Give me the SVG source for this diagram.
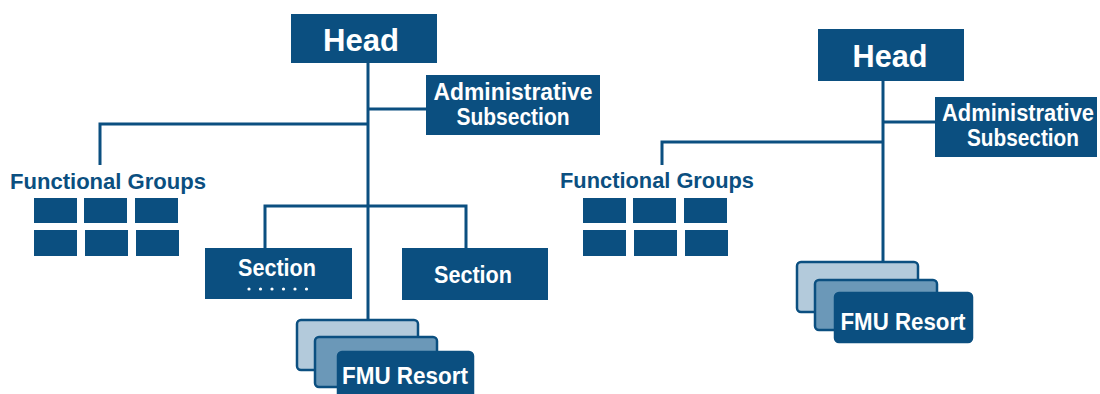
<svg xmlns="http://www.w3.org/2000/svg" width="1100" height="394" viewBox="0 0 1100 394">
  <style>
    .box { fill: #0b4f80; }
    .cell { fill: #0b4f80; }
    .dot { fill: #ffffff; }
    .link { fill: none; stroke: #0b4f80; stroke-width: 3; }
    .lbl { font-family: "Liberation Sans", Arial, sans-serif; font-weight: bold; fill: #ffffff; text-anchor: middle; font-size: 23px; }
    .head { font-size: 32px; }
    .cap { font-family: "Liberation Sans", Arial, sans-serif; font-weight: bold; fill: #0b4f80; font-size: 22.5px; }
    .card { stroke: #0b4f80; stroke-width: 2.5; }
    .c1 { fill: #b3cadb; }
    .c2 { fill: #6b98b8; }
    .c3 { fill: #0b4f80; }
  </style>
  <defs>
    <g id="grid">
      <rect class="cell" x="0" y="0" width="43" height="25"/>
      <rect class="cell" x="50" y="0" width="43" height="25"/>
      <rect class="cell" x="101" y="0" width="43" height="25"/>
      <rect class="cell" x="0" y="32" width="43" height="26"/>
      <rect class="cell" x="51" y="32" width="43" height="26"/>
      <rect class="cell" x="102" y="32" width="43" height="26"/>
    </g>
  </defs>

  <!-- connectors -->
  <g id="connectors">
    <!-- left chart -->
    <path class="link" d="M368 63 V320"/>
    <path class="link" d="M368 109 H426"/>
    <path class="link" d="M368 124 H100 V165"/>
    <path class="link" d="M265 248 V206 H466 V248"/>
    <!-- right chart -->
    <path class="link" d="M883 81 V262"/>
    <path class="link" d="M883 122 H935"/>
    <path class="link" d="M883 142 H662 V165"/>
  </g>

  <!-- left chart -->
  <g id="head-left">
    <rect class="box" x="291" y="14" width="146" height="49"/>
    <text class="lbl head" x="361" y="51" textLength="76" lengthAdjust="spacingAndGlyphs">Head</text>
  </g>
  <g id="admin-left">
    <rect class="box" x="426" y="75" width="174" height="60"/>
    <text class="lbl" x="513" y="100" textLength="159" lengthAdjust="spacingAndGlyphs">Administrative</text>
    <text class="lbl" x="513" y="125" textLength="113" lengthAdjust="spacingAndGlyphs">Subsection</text>
  </g>
  <g id="groups-left">
    <text class="cap" x="10" y="189" textLength="196" lengthAdjust="spacingAndGlyphs">Functional Groups</text>
    <use href="#grid" x="34" y="198"/>
  </g>
  <g id="section-left">
    <rect class="box" x="205" y="248" width="147" height="51"/>
    <text class="lbl" x="277" y="276" textLength="78" lengthAdjust="spacingAndGlyphs">Section</text>
    <g id="ellipsis">
      <circle class="dot" cx="249" cy="289" r="1.6"/>
      <circle class="dot" cx="260.5" cy="289" r="1.6"/>
      <circle class="dot" cx="272" cy="289" r="1.6"/>
      <circle class="dot" cx="283.5" cy="289" r="1.6"/>
      <circle class="dot" cx="295" cy="289" r="1.6"/>
      <circle class="dot" cx="306.5" cy="289" r="1.6"/>
    </g>
  </g>
  <g id="section-right">
    <rect class="box" x="402" y="248" width="146" height="52"/>
    <text class="lbl" x="473" y="283" textLength="78" lengthAdjust="spacingAndGlyphs">Section</text>
  </g>
  <g id="fmu-left">
    <rect class="card c1" x="297" y="320" width="121" height="50" rx="4"/>
    <rect class="card c2" x="315" y="337" width="122" height="50" rx="4"/>
    <rect class="card c3" x="338" y="352" width="135" height="50" rx="4"/>
    <text class="lbl" x="405" y="384" textLength="126" lengthAdjust="spacingAndGlyphs">FMU Resort</text>
  </g>

  <!-- right chart -->
  <g id="head-right">
    <rect class="box" x="818" y="29" width="146" height="52"/>
    <text class="lbl head" x="890" y="67" textLength="75" lengthAdjust="spacingAndGlyphs">Head</text>
  </g>
  <g id="admin-right">
    <rect class="box" x="935" y="97" width="162" height="60"/>
    <text class="lbl" x="1018" y="121" textLength="152" lengthAdjust="spacingAndGlyphs">Administrative</text>
    <text class="lbl" x="1023" y="146" textLength="112" lengthAdjust="spacingAndGlyphs">Subsection</text>
  </g>
  <g id="groups-right">
    <text class="cap" x="560" y="188" textLength="194" lengthAdjust="spacingAndGlyphs">Functional Groups</text>
    <use href="#grid" x="583" y="198"/>
  </g>
  <g id="fmu-right">
    <rect class="card c1" x="797" y="262" width="121" height="50" rx="4"/>
    <rect class="card c2" x="815" y="280" width="122" height="50" rx="4"/>
    <rect class="card c3" x="835" y="293" width="137" height="49" rx="4"/>
    <text class="lbl" x="903" y="330" textLength="125" lengthAdjust="spacingAndGlyphs">FMU Resort</text>
  </g>
</svg>
